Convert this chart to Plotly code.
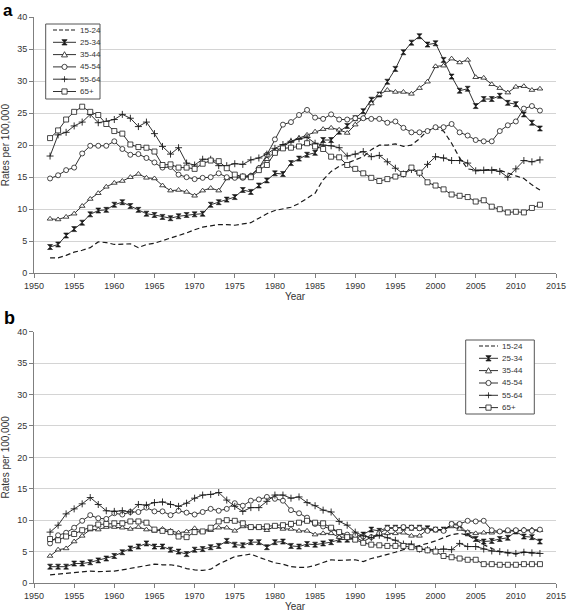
import plotly.graph_objects as go

years = list(range(1952, 2014))
age_groups = ["15-24", "25-34", "35-44", "45-54", "55-64", "65+"]
x_ticks = [1950, 1955, 1960, 1965, 1970, 1975, 1980, 1985, 1990, 1995, 2000, 2005, 2010, 2015]
y_ticks = [0, 5, 10, 15, 20, 25, 30, 35, 40]

# Panel a
a_15_24 = [2.4, 2.4, 2.8, 3.3, 3.6, 4.0, 4.9, 4.8,
           4.5, 4.5, 4.6, 4.0, 4.5, 4.7, 5.1, 5.4, 5.8, 6.3,
           6.8, 7.2, 7.4, 7.6, 7.6, 7.5, 7.7, 7.9, 8.6, 9.3,
           9.8, 10.0, 10.3, 10.9, 11.7, 12.5, 14.6, 15.9, 16.7, 17.2,
           17.7, 18.2, 19.3, 20.0, 20.0, 20.2, 19.8, 20.0, 21.0, 22.3,
           22.6, 22.2, 20.3, 18.0, 16.3, 16.1, 16.1, 16.2, 16.1, 15.6,
           15.2, 14.8, 13.8, 13.0]
a_25_34 = [4.1, 4.5, 5.9, 6.9, 7.9, 9.2, 9.8, 9.9,
           10.7, 11.1, 10.5, 9.9, 9.3, 9.1, 8.8, 8.6, 8.9, 9.1,
           9.2, 9.3, 10.7, 11.1, 11.5, 11.9, 13.0, 12.7, 13.7, 14.5,
           15.6, 15.5, 17.2, 17.9, 18.5, 18.8, 20.8, 20.8, 22.1, 23.0,
           24.2, 25.3, 27.1, 27.9, 29.9, 31.9, 34.5, 36.0, 37.0, 35.7,
           35.9, 33.3, 30.7, 28.5, 28.8, 26.1, 27.2, 27.2, 27.7, 26.6,
           26.4, 24.8, 23.5, 22.6]
a_35_44 = [8.5, 8.4, 8.8, 9.3, 10.5, 11.6, 12.5, 13.5,
           14.1, 14.4, 15.0, 15.5, 14.9, 14.8, 13.7, 12.9, 13.0, 12.7,
           12.1, 12.9, 13.3, 12.9, 14.8, 15.0, 15.2, 15.3, 16.5, 17.8,
           19.0, 19.7, 20.6, 21.1, 21.6, 22.1, 22.5, 22.7, 22.4, 21.9,
           23.2, 24.2, 26.5, 27.9, 28.6, 28.3, 28.3, 28.0, 28.9, 29.9,
           32.3, 32.4, 33.5, 32.9, 33.3, 30.6, 30.5, 29.5, 28.9, 28.2,
           29.1, 29.2, 28.6, 28.8]
a_45_54 = [14.8, 15.3, 16.1, 16.5, 18.7, 19.9, 19.9, 19.9,
           20.6, 19.4, 18.5, 18.6, 18.0, 17.3, 16.5, 16.6, 15.4, 15.0,
           14.7, 14.9, 15.0, 15.6, 15.0, 14.9, 14.9, 15.2, 16.4, 18.5,
           20.9, 23.2, 23.6, 24.7, 25.5, 24.3, 24.1, 24.8, 24.0, 24.0,
           24.2, 24.2, 24.1, 24.1, 23.5, 23.7, 22.7, 22.0, 22.0, 22.2,
           22.8, 22.8, 23.3, 22.0, 21.5, 20.8, 20.6, 20.6, 22.2, 23.1,
           23.7, 25.7, 26.1, 25.4]
a_55_64 = [18.3, 21.6, 22.0, 23.0, 23.6, 24.8, 23.5, 23.7,
           24.0, 24.8, 24.2, 22.9, 23.6, 21.8, 19.8, 18.6, 19.6, 17.2,
           16.9, 17.8, 17.8, 16.8, 16.8, 17.1, 17.0, 17.7, 18.0, 18.6,
           19.5, 20.1, 20.6, 21.0, 21.2, 20.3, 20.0, 19.9, 19.6, 18.3,
           18.6, 19.0, 18.2, 18.4, 17.4, 16.4, 15.5, 16.2, 15.6, 17.0,
           18.2, 18.0, 17.6, 17.6, 17.2, 16.0, 16.1, 16.1, 15.9, 15.0,
           16.3, 17.6, 17.4, 17.7]
a_65_plus = [21.1, 22.3, 24.0, 25.2, 26.0, 25.2, 24.7, 23.3,
             22.2, 21.8, 20.1, 19.7, 19.6, 19.0, 16.9, 17.0, 16.5, 16.5,
             16.3, 17.1, 17.6, 17.5, 16.4, 15.4, 15.1, 15.0, 16.1, 16.9,
             18.8, 19.5, 19.6, 19.8, 20.3, 19.8, 19.4, 18.2, 18.1, 16.9,
             16.3, 15.6, 14.9, 14.4, 14.7, 15.1, 15.5, 16.5, 15.7, 14.2,
             13.7, 13.1, 12.3, 12.1, 11.9, 11.2, 11.4, 10.4, 10.0, 9.5,
             9.6, 9.5, 10.2, 10.7]

# Panel b
b_15_24 = [1.3, 1.4, 1.6, 1.7, 1.8, 1.9, 1.8, 1.8,
           1.9, 2.1, 2.3, 2.6, 2.8, 3.0, 2.9, 2.9, 2.7, 2.3,
           2.1, 2.0, 2.2, 3.0, 3.6, 4.2, 4.4, 4.6, 4.1, 3.6,
           3.2, 3.0, 2.6, 2.5, 2.5, 2.8, 3.3, 3.7, 3.6, 3.7,
           3.7, 3.4, 3.9, 4.2, 4.5, 4.9, 5.3, 5.6, 5.9, 6.3,
           6.7, 7.2, 7.7, 7.9, 7.6, 6.9, 6.1, 5.5, 5.0, 4.8,
           4.6, 4.9, 4.8, 4.7]
b_25_34 = [2.6, 2.6, 2.6, 3.1, 3.1, 3.3, 3.6, 3.9,
           4.3, 4.9, 5.5, 5.8, 6.3, 5.8, 5.8, 5.3, 5.0, 4.6,
           5.3, 5.4, 5.7, 5.9, 6.7, 6.1, 6.0, 6.5, 6.5, 5.7,
           6.5, 6.6, 5.9, 5.8, 6.2, 6.1, 6.3, 6.5, 6.9, 6.9,
           7.0, 7.7, 8.5, 8.3, 8.8, 8.8, 8.8, 8.8, 8.8, 8.7,
           8.5, 8.5, 9.3, 9.2, 7.9, 7.0, 6.6, 6.7, 7.0, 7.2,
           8.2, 7.4, 7.3, 6.6]
b_35_44 = [4.3, 5.3, 5.5, 6.6, 7.5, 8.5, 8.5, 8.9,
           8.9, 8.8, 8.6, 8.9, 8.5, 8.3, 8.6, 8.3, 8.0, 8.2,
           8.7, 8.2, 8.4, 8.8, 8.8, 8.3, 9.0, 8.8, 8.8, 8.4,
           9.0, 8.6, 8.6, 8.3, 8.3, 7.7, 7.9, 7.9, 7.3, 7.3,
           7.3, 6.6, 7.3, 7.7, 7.9, 7.9, 8.0, 7.5, 7.5, 8.5,
           8.5, 8.5, 9.0, 8.6, 8.1, 7.9, 8.0, 8.0, 8.2, 8.2,
           8.4, 8.5, 8.5, 8.4]
b_45_54 = [6.3, 7.6, 8.0, 8.8, 9.9, 10.8, 10.3, 10.2,
           11.1, 10.9, 11.3, 11.3, 12.0, 11.4, 11.4, 10.8, 11.5, 11.2,
           10.9, 11.3, 11.8, 11.5, 11.8, 12.7, 12.3, 13.1, 13.3, 13.7,
           13.4, 13.1, 11.6, 11.1, 10.4, 9.4, 9.0, 8.6, 8.0, 7.7,
           7.6, 7.4, 7.3, 7.9, 8.7, 8.7, 8.9, 8.8, 8.7, 8.3,
           8.5, 8.3, 9.4, 9.4, 9.9, 9.8, 9.9, 8.4, 8.2, 8.4,
           8.4, 8.4, 8.3, 8.5]
b_55_64 = [8.1, 9.2, 11.0, 11.8, 12.6, 13.6, 12.5, 11.5,
           11.4, 11.5, 11.3, 12.5, 12.4, 12.8, 12.9, 12.5, 12.2, 12.7,
           13.5, 14.0, 14.1, 14.4, 13.2, 12.2, 11.4, 12.0, 12.0, 13.0,
           14.0, 14.0, 13.5, 13.7, 12.8, 12.3, 11.6, 11.3, 9.8, 9.2,
           8.1, 7.5, 7.2, 7.6, 7.2, 6.8, 6.2, 6.2, 5.4, 5.3,
           5.3, 5.4, 5.3, 6.3, 5.8, 5.8, 5.4, 5.1, 5.0, 4.8,
           4.7, 4.9, 4.8, 4.7]
b_65_plus = [7.0, 6.8, 7.4, 7.8, 8.4, 8.8, 9.3, 9.4,
             9.5, 9.5, 9.8, 9.8, 9.6, 8.5, 8.3, 8.1, 7.4, 7.3,
             8.1, 8.2, 8.8, 9.8, 10.0, 9.9, 9.5, 8.9, 8.9, 9.0,
             9.1, 9.2, 9.4, 9.6, 9.9, 9.6, 9.5, 8.8, 8.1, 7.3,
             6.9, 6.4, 6.1, 6.0, 5.9, 5.9, 5.9, 5.7, 5.4, 5.2,
             5.0, 4.3, 4.1, 3.9, 3.7, 3.7, 3.0, 3.0, 2.9, 2.9,
             2.9, 3.0, 3.0, 3.0]

panel_a = [a_15_24, a_25_34, a_35_44, a_45_54, a_55_64, a_65_plus]
panel_b = [b_15_24, b_25_34, b_35_44, b_45_54, b_55_64, b_65_plus]

INK = "#1a1a1a"
MK = 5
styles = [
    dict(mode="lines", line=dict(color=INK, width=1.2, dash="5px,3px")),
    dict(mode="lines+markers", line=dict(color=INK, width=0.9),
         marker=dict(symbol="hourglass", size=MK, color=INK, line=dict(color=INK, width=0.6))),
    dict(mode="lines+markers", line=dict(color=INK, width=0.9),
         marker=dict(symbol="triangle-up", size=MK, color="white", line=dict(color=INK, width=0.8))),
    dict(mode="lines+markers", line=dict(color=INK, width=0.9),
         marker=dict(symbol="circle", size=MK, color="white", line=dict(color=INK, width=0.8))),
    dict(mode="lines+markers", line=dict(color=INK, width=0.9),
         marker=dict(symbol="cross-thin", size=MK, color=INK, line=dict(color=INK, width=0.9))),
    dict(mode="lines+markers", line=dict(color=INK, width=0.9),
         marker=dict(symbol="square", size=MK, color="white", line=dict(color=INK, width=0.8))),
]

fig = go.Figure()
for name, vals, st in zip(age_groups, panel_a, styles):
    fig.add_trace(go.Scatter(x=years, y=vals, name=name, xaxis="x", yaxis="y",
                             showlegend=False, **st))
for name, vals, st in zip(age_groups, panel_b, styles):
    fig.add_trace(go.Scatter(x=years, y=vals, name=name, xaxis="x2", yaxis="y2",
                             showlegend=False, **st))

# geometry (pixels)
W, H = 567, 614
ML, MR, MT, MB = 34, 11, 17, 31
PW, PH = W - ML - MR, H - MT - MB


def px_x(px):
    return (px - ML) / PW


def px_y(py):
    return (H - MB - py) / PH


a_top, a_bot = 17, 273.3
b_top, b_bot = 331.7, 583
FONT = "Liberation Sans, Arial, sans-serif"
TXT = "#333333"

axis_common = dict(range=[1950, 2015], tickvals=x_ticks, showgrid=False, showline=True,
                   linecolor="#7f7f7f", linewidth=1, ticks="outside", ticklen=4,
                   tickcolor="#7f7f7f", tickfont=dict(family=FONT, size=9, color=TXT),
                   zeroline=False, automargin=False)
yaxis_common = dict(range=[0, 40], tickvals=y_ticks, showgrid=True, gridcolor="#d4d4d4",
                    gridwidth=1, showline=True, linecolor="#7f7f7f", linewidth=1,
                    ticks="outside", ticklen=4, tickcolor="#7f7f7f",
                    tickfont=dict(family=FONT, size=9, color=TXT), zeroline=False,
                    automargin=False)

fig.update_layout(
    template="none",
    width=W, height=H, margin=dict(l=ML, r=MR, t=MT, b=MB, autoexpand=False),
    paper_bgcolor="white", plot_bgcolor="white", showlegend=False,
    xaxis=dict(domain=[0, 1], anchor="y",
               title=dict(text="Year", font=dict(family=FONT, size=10, color=TXT), standoff=2),
               **axis_common),
    yaxis=dict(domain=[px_y(a_bot), 1], anchor="x",
               title=dict(text="Rates per 100,000", font=dict(family=FONT, size=10, color=TXT), standoff=6),
               **yaxis_common),
    xaxis2=dict(domain=[0, 1], anchor="y2",
                title=dict(text="Year", font=dict(family=FONT, size=10, color=TXT), standoff=2),
                **axis_common),
    yaxis2=dict(domain=[0, px_y(b_top)], anchor="x2",
                title=dict(text="Rates per 100,000", font=dict(family=FONT, size=10, color=TXT), standoff=6),
                **yaxis_common),
)

shapes = []
annotations = []

# panel labels
annotations.append(dict(text="<b>a</b>", xref="paper", yref="paper", x=px_x(1.5), y=px_y(0),
                        xanchor="left", yanchor="top", showarrow=False, borderpad=0,
                        font=dict(family=FONT, size=17, color="black")))
annotations.append(dict(text="<b>b</b>", xref="paper", yref="paper", x=px_x(1.5), y=px_y(318),
                        xanchor="left", yanchor="middle", showarrow=False,
                        font=dict(family=FONT, size=18, color="black")))


def marker_shapes(kind, cx, cy):
    base = dict(xref="paper", yref="paper", xsizemode="pixel", ysizemode="pixel",
                xanchor=px_x(cx), yanchor=px_y(cy), line=dict(color=INK, width=0.8))
    r = 2.6
    if kind == 1:
        return [dict(type="path", path=f"M{-r},{r} L{r},{r} L{-r},{-r} L{r},{-r} Z",
                     fillcolor=INK, **base)]
    if kind == 2:
        return [dict(type="path", path=f"M{-3},{-2.3} L{3},{-2.3} L0,{2.9} Z",
                     fillcolor="white", **base)]
    if kind == 3:
        return [dict(type="circle", x0=-r, x1=r, y0=-r, y1=r, fillcolor="white", **base)]
    if kind == 4:
        return [dict(type="path", path=f"M{-3},0 L{3},0 M0,{-3} L0,{3}", **base)]
    if kind == 5:
        return [dict(type="rect", x0=-r, x1=r, y0=-r, y1=r, fillcolor="white", **base)]
    return []


def build_legend(box, rows_y, line_x0, line_x1, text_x):
    x0, y0, x1, y1 = box
    shapes.append(dict(type="rect", xref="paper", yref="paper",
                       x0=px_x(x0), x1=px_x(x1), y0=px_y(y1), y1=px_y(y0),
                       fillcolor="white", line=dict(color="#555555", width=1)))
    for i, (name, ry) in enumerate(zip(age_groups, rows_y)):
        dash = "4px,2px" if i == 0 else "solid"
        shapes.append(dict(type="line", xref="paper", yref="paper",
                           x0=px_x(line_x0), x1=px_x(line_x1), y0=px_y(ry), y1=px_y(ry),
                           line=dict(color=INK, width=1.1 if i == 0 else 0.9, dash=dash)))
        shapes.extend(marker_shapes(i, (line_x0 + line_x1) / 2, ry))
        annotations.append(dict(text=name, xref="paper", yref="paper", x=px_x(text_x), y=px_y(ry),
                                xanchor="left", yanchor="middle", showarrow=False,
                                font=dict(family=FONT, size=8, color=TXT)))


build_legend((45.7, 24, 100, 99), [30, 42.3, 54.6, 66.9, 79.2, 91.5], 53, 76, 78)
build_legend((465.7, 340, 534.3, 414), [346, 358.3, 370.6, 383, 395.3, 407.6], 479, 498, 499.5)

fig.update_layout(shapes=shapes, annotations=annotations)
fig.write_html("out.html", config={"displayModeBar": False},
               post_script="document.body.style.margin='0';document.body.style.padding='0';")
